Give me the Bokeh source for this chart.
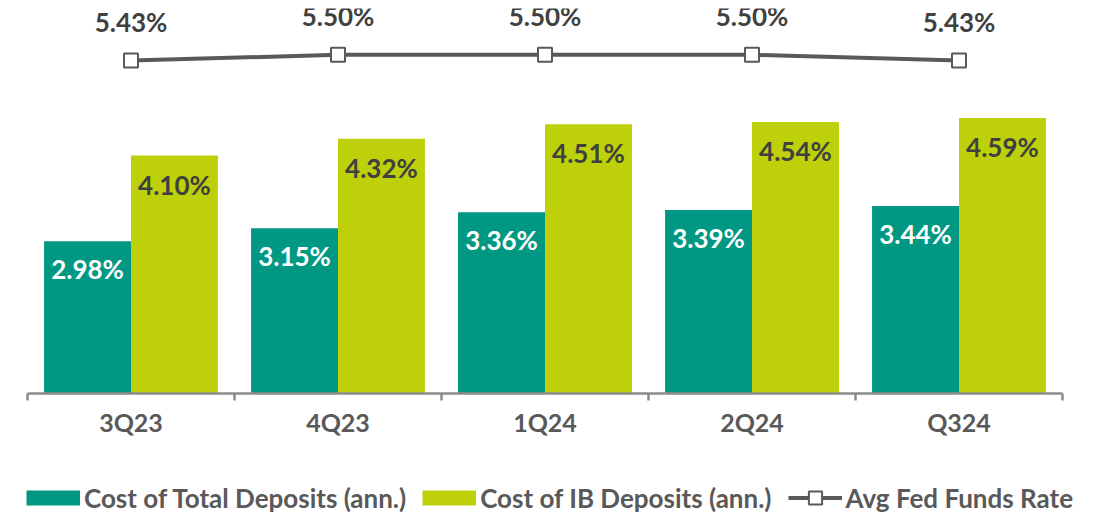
from bokeh.plotting import figure
from bokeh.layouts import column
from bokeh.models import (Range1d, LinearAxis, FixedTicker, Legend, LegendItem,
                          ColumnDataSource)
from bokeh.transform import dodge
from bokeh.core.properties import value
from bokeh.embed import file_html
from bokeh.resources import INLINE

# ---- data ----
categories = ["3Q23", "4Q23", "1Q24", "2Q24", "Q324"]
cost_total = [2.98, 3.15, 3.36, 3.39, 3.44]
cost_ib = [4.10, 4.32, 4.51, 4.54, 4.59]
fed_funds = [5.43, 5.50, 5.50, 5.50, 5.43]
series_names = ["Cost of Total Deposits (ann.)", "Cost of IB Deposits (ann.)",
                "Avg Fed Funds Rate"]

TEAL = "#009882"
LIME = "#BDD009"
GREY = "#595959"
DARK = "#404040"
AXIS = "#8C8C8C"
FONT = value("Lato")

idx = list(range(len(categories)))
src = ColumnDataSource(dict(
    x=idx, cat=categories, total=cost_total, ib=cost_ib, fed=fed_funds,
    total_lbl=[f"{v:.2f}%" for v in cost_total],
    ib_lbl=[f"{v:.2f}%" for v in cost_ib],
    fed_lbl=[f"{v:.2f}%" for v in fed_funds],
))

# ---------------- main chart ----------------
p = figure(width=1100, height=453, frame_width=1035, frame_height=385,
           x_range=Range1d(-0.5, len(categories) - 0.5),
           y_range=Range1d(0.99, 6.023),
           x_axis_type=None, y_axis_type=None,
           output_backend="svg", toolbar_location=None,
           min_border_left=27, min_border_right=38,
           min_border_top=8, min_border_bottom=60)
p.extra_y_ranges = {"rate": Range1d(1.339, 6.069)}
p.outline_line_color = None
p.background_fill_color = "white"
p.border_fill_color = "white"
p.frame_align = False

xaxis = LinearAxis(
    ticker=FixedTicker(ticks=idx, minor_ticks=[i - 0.5 for i in range(len(categories) + 1)]),
    major_label_overrides={i: c for i, c in enumerate(categories)},
    axis_line_color=AXIS, axis_line_width=2.5,
    major_tick_out=0, major_tick_in=0,
    minor_tick_out=7, minor_tick_in=0,
    minor_tick_line_color=AXIS, minor_tick_line_width=2.5,
    major_label_standoff=6,
    major_label_text_font="Lato", major_label_text_font_style="bold",
    major_label_text_font_size="25px", major_label_text_color=GREY,
)
p.add_layout(xaxis, "below")

w = 0.42
p.vbar(x=dodge("x", -w / 2), top="total", bottom=0, width=w,
       source=src, fill_color=TEAL, line_color=None)
p.vbar(x=dodge("x", w / 2), top="ib", bottom=0, width=w,
       source=src, fill_color=LIME, line_color=None)

p.text(x=dodge("x", -w / 2), y="total", text="total_lbl", source=src,
       text_align="center", text_baseline="middle", y_offset=28,
       text_color="white", text_font=FONT, text_font_style="bold",
       text_font_size="26px")
p.text(x=dodge("x", w / 2), y="ib", text="ib_lbl", source=src,
       text_align="center", text_baseline="middle", y_offset=29,
       text_color=DARK, text_font=FONT, text_font_style="bold",
       text_font_size="26px")

p.line(x="x", y="fed", source=src, y_range_name="rate",
       line_color=GREY, line_width=4)
p.scatter(x="x", y="fed", source=src, y_range_name="rate",
          marker="square", size=14, fill_color="white",
          line_color=GREY, line_width=2)
p.text(x="x", y="fed", text="fed_lbl", source=src, y_range_name="rate",
       text_align="center", text_baseline="middle", y_offset=-39,
       text_color=DARK, text_font=FONT, text_font_style="bold",
       text_font_size="26px")

# ---------------- legend strip ----------------
# the same series drawn again as legend proxies; the visible ranges of this
# strip hold none of their values, so only the legend shows
lg = figure(width=1100, height=59, x_range=Range1d(100, 101), y_range=Range1d(100, 101),
            x_axis_type=None, y_axis_type=None,
            output_backend="svg", toolbar_location=None,
            min_border_left=0, min_border_right=0,
            min_border_top=0, min_border_bottom=0)
lg.outline_line_color = None
lg.background_fill_color = "white"
lg.border_fill_color = "white"
lg.frame_align = False

k_total = lg.line(x="x", y="total", source=src, line_color=TEAL, line_width=15)
k_ib = lg.line(x="x", y="ib", source=src, line_color=LIME, line_width=15)
k_line = lg.line(x="x", y="fed", source=src, line_color=GREY, line_width=4)
k_pts = lg.scatter(x="x", y="fed", source=src, marker="square", size=13,
                   fill_color="white", line_color=GREY, line_width=2)

legend = Legend(
    items=[LegendItem(label=series_names[0], renderers=[k_total]),
           LegendItem(label=series_names[1], renderers=[k_ib]),
           LegendItem(label=series_names[2], renderers=[k_line, k_pts])],
    location=(26, -2), orientation="horizontal",
    padding=0, margin=0, spacing=16, label_standoff=4,
    glyph_width=54, glyph_height=33, label_height=17,
    label_text_font="Lato", label_text_font_style="bold",
    label_text_font_size="26px", label_text_color=GREY,
    label_text_baseline="middle",
    border_line_color=None, background_fill_alpha=0,
)
lg.add_layout(legend)

layout = column(p, lg, spacing=0)
open("out.html", "w").write(file_html(layout, INLINE))
